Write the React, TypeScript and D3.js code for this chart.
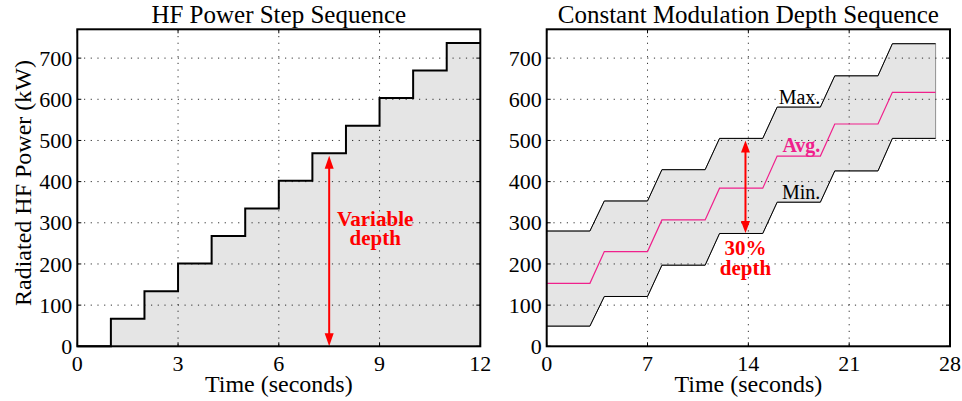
import React from 'react';
import * as d3 from 'd3';

// ---- Data ----
const stepTimes = [0, 1, 2, 3, 4, 5, 6, 7, 8, 9, 10, 11, 12];
const stepPower = [0, 67, 134, 201, 268, 335, 402, 469, 536, 603, 670, 737, 737];

const flatStart = [0, 4, 8, 12, 16, 20, 24];
const flatEnd = [3, 7, 11, 15, 19, 23, 27];
const maxPower = [280, 353, 429, 505, 581, 657, 735];
const avgPower = [153, 230, 307, 384, 462, 540, 617];
const minPower = [49, 121, 197, 274, 350, 426, 505];

const yTicks = [0, 100, 200, 300, 400, 500, 600, 700];
const leftXTicks = [0, 3, 6, 9, 12];
const rightXTicks = [0, 7, 14, 21, 28];

const titles = ['HF Power Step Sequence', 'Constant Modulation Depth Sequence'];
const xLabel = 'Time (seconds)';
const yLabel = 'Radiated HF Power (kW)';

const FONT = "'Liberation Serif', 'Times New Roman', 'DejaVu Serif', serif";
const RED = '#ff0000';
const PINK = '#f0208c';
const FILL = '#e5e5e5';

const TOP = 29.3;
const BOTTOM = 346.3;
const yScale = d3.scaleLinear().domain([0, 770]).range([BOTTOM, TOP]);

type Panel = {
  x: d3.ScaleLinear<number, number>;
  ticks: number[];
  title: string;
};

function Axes({ p, children }: { p: Panel; children?: React.ReactNode }) {
  const [x0, x1] = p.x.range();
  const grid = (
    <g stroke="#000" strokeWidth={1} strokeDasharray="1.2,5" opacity={0.75}>
      {p.ticks.slice(1, -1).map((t) => (
        <line key={'gx' + t} x1={p.x(t)} x2={p.x(t)} y1={TOP} y2={BOTTOM} />
      ))}
      {yTicks.slice(1).map((v) => (
        <line key={'gy' + v} x1={x0} x2={x1} y1={yScale(v)} y2={yScale(v)} />
      ))}
    </g>
  );
  return { grid, x0, x1 } as any;
}

function Frame({ p }: { p: Panel }) {
  const [x0, x1] = p.x.range();
  return (
    <g>
      <g stroke="#000" strokeWidth={1}>
        {p.ticks.map((t) => (
          <g key={'tx' + t}>
            <line x1={p.x(t)} x2={p.x(t)} y1={BOTTOM} y2={BOTTOM - 4} />
            <line x1={p.x(t)} x2={p.x(t)} y1={TOP} y2={TOP + 4} />
          </g>
        ))}
        {yTicks.map((v) => (
          <g key={'ty' + v}>
            <line x1={x0} x2={x0 + 4} y1={yScale(v)} y2={yScale(v)} />
            <line x1={x1} x2={x1 - 4} y1={yScale(v)} y2={yScale(v)} />
          </g>
        ))}
      </g>
      <rect x={x0} y={TOP} width={x1 - x0} height={BOTTOM - TOP} fill="none" stroke="#000" strokeWidth={2} />
      <g fontFamily={FONT} fontSize={22} fill="#000">
        {p.ticks.map((t) => (
          <text key={'lx' + t} x={p.x(t)} y={BOTTOM + 24.5} textAnchor="middle">{t}</text>
        ))}
        {yTicks.map((v) => (
          <text key={'ly' + v} x={x0 - 5} y={yScale(v)} dy="0.35em" textAnchor="end">{v}</text>
        ))}
      </g>
      <text x={(x0 + x1) / 2} y={392} textAnchor="middle" fontFamily={FONT} fontSize={24}>{xLabel}</text>
      <text x={(x0 + x1) / 2} y={23} textAnchor="middle" fontFamily={FONT} fontSize={25}>{p.title}</text>
    </g>
  );
}

function Grid({ p }: { p: Panel }) {
  const [x0, x1] = p.x.range();
  return (
    <g stroke="#000" strokeWidth={1} strokeDasharray="1.2,5.5" opacity={0.8}>
      {p.ticks.slice(1, -1).map((t) => (
        <line key={'gx' + t} x1={p.x(t)} x2={p.x(t)} y1={TOP} y2={BOTTOM} />
      ))}
      {yTicks.slice(1).map((v) => (
        <line key={'gy' + v} x1={x0} x2={x1} y1={yScale(v)} y2={yScale(v)} />
      ))}
    </g>
  );
}

function Arrow({ x, yTop, yBot, w = 4.5, h = 13 }: { x: number; yTop: number; yBot: number; w?: number; h?: number }) {
  return (
    <g fill={RED} stroke="none">
      <line x1={x} x2={x} y1={yTop + h * 0.6} y2={yBot - h * 0.6} stroke={RED} strokeWidth={2} />
      <polygon points={`${x},${yTop} ${x - w},${yTop + h} ${x + w},${yTop + h}`} />
      <polygon points={`${x},${yBot} ${x - w},${yBot - h} ${x + w},${yBot - h}`} />
    </g>
  );
}

export default function App() {
  const left: Panel = {
    x: d3.scaleLinear().domain([0, 12]).range([77.3, 480.3]),
    ticks: leftXTicks,
    title: titles[0],
  };
  const right: Panel = {
    x: d3.scaleLinear().domain([0, 28]).range([546.7, 950]),
    ticks: rightXTicks,
    title: titles[1],
  };

  // Left step series
  const stepPts: [number, number][] = stepTimes.map((t, i) => [t, stepPower[i]]);
  const stepLine = d3.line<[number, number]>()
    .x((d) => left.x(d[0]))
    .y((d) => yScale(d[1]))
    .curve(d3.curveStepAfter);
  const stepArea = d3.area<[number, number]>()
    .x((d) => left.x(d[0]))
    .y0(yScale(0))
    .y1((d) => yScale(d[1]))
    .curve(d3.curveStepAfter);

  // Right series
  const build = (vals: number[]) => {
    const pts: { t: number; v: number }[] = [];
    vals.forEach((v, i) => {
      pts.push({ t: flatStart[i], v });
      pts.push({ t: flatEnd[i], v });
    });
    return pts;
  };
  const maxPts = build(maxPower);
  const avgPts = build(avgPower);
  const minPts = build(minPower);
  const band = maxPts.map((d, i) => ({ t: d.t, hi: d.v, lo: minPts[i].v }));
  const rLine = d3.line<{ t: number; v: number }>().x((d) => right.x(d.t)).y((d) => yScale(d.v));
  const rArea = d3.area<{ t: number; hi: number; lo: number }>()
    .x((d) => right.x(d.t))
    .y0((d) => yScale(d.lo))
    .y1((d) => yScale(d.hi));

  return (
    <svg width={962} height={401} style={{ position: 'absolute', left: 0, top: 0, background: '#fff' }}>
      <rect x={0} y={0} width={962} height={401} fill="#fff" />
      {/* Left panel */}
      <path d={stepArea(stepPts) || ''} fill={FILL} stroke="none" />
      <Grid p={left} />
      <path d={stepLine(stepPts) || ''} fill="none" stroke="#000" strokeWidth={2} />
      <Arrow x={left.x(7.5)} yTop={yScale(463)} yBot={yScale(0)} />
      <text x={left.x(8.87)} y={yScale(292)} textAnchor="middle" fontFamily={FONT} fontSize={21} fontWeight="bold" fill={RED}>
        <tspan x={left.x(8.87)}>Variable</tspan>
        <tspan x={left.x(8.87)} dy={19}>depth</tspan>
      </text>
      <Frame p={left} />

      {/* Right panel */}
      <path d={rArea(band) || ''} fill={FILL} stroke="#777" strokeWidth={0.8} />
      <Grid p={right} />
      <path d={rLine(maxPts) || ''} fill="none" stroke="#000" strokeWidth={1} />
      <path d={rLine(minPts) || ''} fill="none" stroke="#000" strokeWidth={1} />
      <path d={rLine(avgPts) || ''} fill="none" stroke={PINK} strokeWidth={1.2} />
      <Arrow x={right.x(13.8)} yTop={yScale(500)} yBot={yScale(275)} w={4.5} h={12} />
      <text x={right.x(13.8)} y={yScale(222)} textAnchor="middle" fontFamily={FONT} fontSize={21} fontWeight="bold" fill={RED}>
        <tspan x={right.x(13.8)}>30%</tspan>
        <tspan x={right.x(13.8)} dy={20}>depth</tspan>
      </text>
      <g fontFamily={FONT} fontSize={20} textAnchor="end">
        <text x={right.x(19)} y={yScale(589)} fill="#000">Max.</text>
        <text x={right.x(19)} y={yScale(471)} fill={PINK} fontWeight="bold">Avg.</text>
        <text x={right.x(19)} y={yScale(357)} fill="#000">Min.</text>
      </g>
      <Frame p={right} />

      <text
        transform={`translate(31,183) rotate(-90)`}
        textAnchor="middle"
        fontFamily={FONT}
        fontSize={24}
      >
        {yLabel}
      </text>
    </svg>
  );
}
